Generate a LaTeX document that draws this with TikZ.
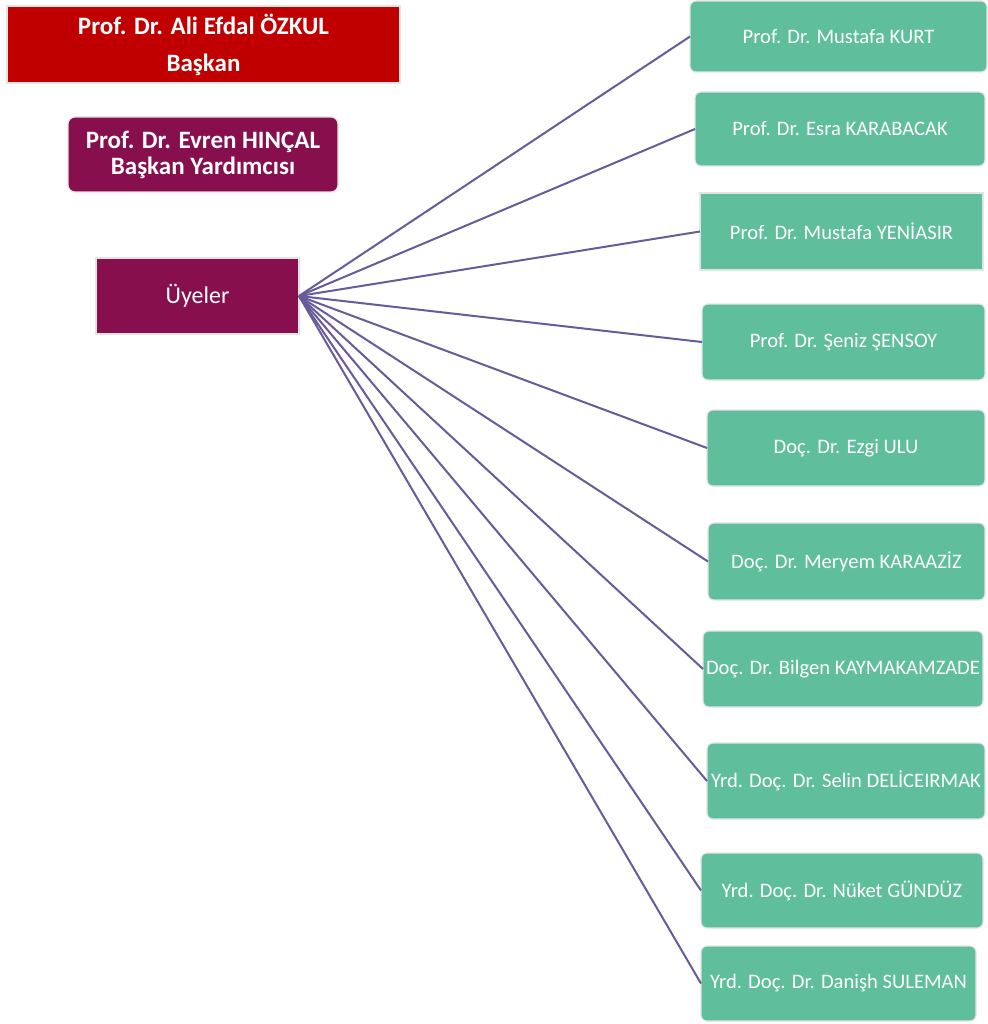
\documentclass[tikz,border=0pt]{standalone}
\usepackage{fontspec}
\setmainfont{Carlito}
\definecolor{redbox}{HTML}{C00000}
\definecolor{plum}{HTML}{870F4E}
\definecolor{mint}{HTML}{5FBE9B}
\definecolor{linkc}{HTML}{685A9B}
\definecolor{edgec}{HTML}{E4E4E4}
\begin{document}
\begin{tikzpicture}[x=1pt,y=-1pt,
  box/.style={inner sep=0pt, outer sep=0pt, draw=edgec, line width=1.2pt, text=white, align=center},
  headbox/.style={box, fill=redbox, font=\bfseries\fontsize{25}{30}\selectfont},
  vicebox/.style={box, fill=plum, rounded corners=7pt, font=\bfseries\fontsize{25}{26}\selectfont},
  memhead/.style={box, fill=plum, font=\fontsize{24}{28}\selectfont},
  member/.style={box, fill=mint, rounded corners=6pt, font=\fontsize{20.6}{24}\selectfont},
  membersq/.style={member, sharp corners},
  link/.style={draw=linkc, line width=2pt}]
\useasboundingbox (0,0) rectangle (987,1024);
\node[headbox, minimum width=393, minimum height=77] (head) at (203.5,44.5) {Prof. Dr. Ali Efdal ÖZKUL\\[7pt]Başkan};
\node[vicebox, minimum width=270, minimum height=75] (vice) at (203,154.5) {Prof. Dr. Evren HINÇAL\\Başkan Yardımcısı};
\node[memhead, minimum width=203, minimum height=76] (uy) at (197.5,296) {Üyeler};
\node[member, minimum width=297, minimum height=71] (g1) at (838.5,36.5) {Prof. Dr. Mustafa KURT};
\node[member, minimum width=290, minimum height=74] (g2) at (840,129) {Prof. Dr. Esra KARABACAK};
\node[membersq, minimum width=283, minimum height=77] (g3) at (841.5,231.5) {Prof. Dr. Mustafa YENİASIR};
\node[member, minimum width=283, minimum height=76] (g4) at (843.5,342) {Prof. Dr. Şeniz ŞENSOY};
\node[member, minimum width=278, minimum height=76] (g5) at (846,448) {Doç. Dr. Ezgi ULU};
\node[member, minimum width=277, minimum height=77] (g6) at (846.5,561.5) {Doç. Dr. Meryem KARAAZİZ};
\node[member, minimum width=280, minimum height=76] (g7) at (843,669) {Doç. Dr. Bilgen KAYMAKAMZADE};
\node[member, minimum width=278, minimum height=76] (g8) at (846,781) {Yrd. Doç. Dr. Selin DELİCEIRMAK};
\node[member, minimum width=282, minimum height=75] (g9) at (842,890.5) {Yrd. Doç. Dr. Nüket GÜNDÜZ};
\node[member, minimum width=275, minimum height=75] (g10) at (838.5,983.5) {Yrd. Doç. Dr. Danişh SULEMAN};
\foreach \g in {g1,g2,g3,g4,g5,g6,g7,g8,g9,g10}
  \draw[link] (uy.east) -- (\g.west);
\end{tikzpicture}
\end{document}
